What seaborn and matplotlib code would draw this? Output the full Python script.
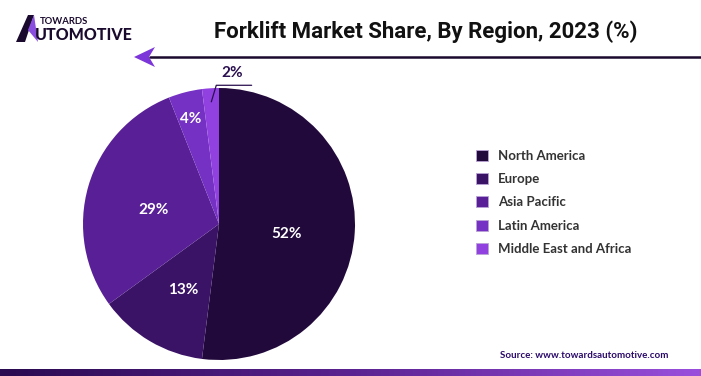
import numpy as np
import matplotlib.pyplot as plt
import seaborn as sns
from matplotlib.patches import Polygon, Rectangle
from matplotlib.colors import LinearSegmentedColormap

regions = ['North America', 'Europe', 'Asia Pacific', 'Latin America', 'Middle East and Africa']
shares = [52, 13, 29, 4, 2]
colors = ['#22093c', '#3a1266', '#581f96', '#7530c4', '#9141df']

sns.set_theme(style="white")
plt.rcParams['font.family'] = ['Lato', 'DejaVu Sans']

W, H = 701, 376
fig = plt.figure(figsize=(W / 100, H / 100), dpi=100)
fig.patch.set_facecolor('white')

# pie axes: centre (219, 224), radius 136 px
cx, cy, r = 219, 224, 136
ax = fig.add_axes([(cx - r) / W, (H - cy - r) / H, 2 * r / W, 2 * r / H])
wedges, _ = ax.pie(shares, colors=colors, startangle=90, counterclock=False,
                   radius=1, wedgeprops=dict(linewidth=0))
ax.set_xlim(-1, 1)
ax.set_ylim(-1, 1)
ax.axis('off')

# percentage labels
dists = [0.5, 0.52, 0.5, 0.84, None]
for w, v, d in zip(wedges, shares, dists):
    mid = np.deg2rad((w.theta1 + w.theta2) / 2)
    if d is not None:
        ax.text(d * np.cos(mid), d * np.sin(mid) - 0.04, f"{v}%", ha='center', va='center',
                color='white', fontsize=11, fontweight='bold')
    else:
        x0, y0 = 0.9 * np.cos(mid), 0.9 * np.sin(mid)
        ax.plot([x0, -0.02, 0.24], [y0, 1.02, 1.02], color='#2a1050', lw=0.9,
                clip_on=False)
        ax.text(0.1, 1.06, f"{v}%", ha='center', va='bottom', color='#2a1050',
                fontsize=11, fontweight='bold')

# legend
handles = [Rectangle((0, 0), 1, 1, facecolor=c, edgecolor='#b9a3d6', lw=0.6) for c in colors]
fig.legend(handles, regions, loc='upper left', bbox_to_anchor=(464 / W, 1 - 138 / H),
           frameon=False, handlelength=0.9, handleheight=0.9, handletextpad=0.8,
           labelspacing=0.85, prop=dict(family='Lato', weight='bold', size=9.5),
           labelcolor='#333333')

# title
fig.text(426 / W, 1 - 32 / H, 'Forklift Market Share, By Region, 2023 (%)', ha='center',
         va='center', fontsize=16, fontweight='bold', color='#111111', family='Roboto')

# arrow line
fig.add_artist(plt.Line2D([150 / W, 1.0], [1 - 57 / H, 1 - 57 / H], color='#1a0a2e', lw=1.8))
fig.add_artist(Polygon([(134 / W, 1 - 57 / H), (155 / W, 1 - 47 / H), (149 / W, 1 - 57 / H),
                        (155 / W, 1 - 67 / H)], closed=True, facecolor='#7b35d9',
                       edgecolor='none', transform=fig.transFigure))

# logo
fig.add_artist(Polygon([(16 / W, 1 - 42 / H), (28 / W, 1 - 15 / H), (34 / W, 1 - 15 / H),
                        (25 / W, 1 - 42 / H)], closed=True, facecolor='#1a0a2e',
                       edgecolor='none', transform=fig.transFigure))
fig.add_artist(Polygon([(28 / W, 1 - 30 / H), (34 / W, 1 - 15 / H), (38 / W, 1 - 42 / H)],
                       closed=True, facecolor='#8b4fe0', edgecolor='none',
                       transform=fig.transFigure))
fig.text(40 / W, 1 - 21 / H, 'TOWARDS', fontsize=6.8, fontweight='bold', color='#1a0a2e',
         va='center', ha='left')
fig.text(35 / W, 1 - 35.5 / H, 'UTOMOTIVE', fontsize=11.5, fontweight='black', color='#1a0a2e',
         va='center', ha='left')

# source
fig.text(668 / W, 1 - 356 / H, 'Source: www.towardsautomotive.com', ha='right', va='center',
         fontsize=7, fontweight='bold', color='#2b0a6b')

# bottom gradient bar
gax = fig.add_axes([0, 0, 1, 7 / H])
grad = np.linspace(0, 1, 256).reshape(1, -1)
cmap = LinearSegmentedColormap.from_list('bar', ['#2a0a50', '#5a2290', '#9a4fdc'])
gax.imshow(grad, aspect='auto', cmap=cmap)
gax.axis('off')

fig.savefig('out.png', dpi=100)
